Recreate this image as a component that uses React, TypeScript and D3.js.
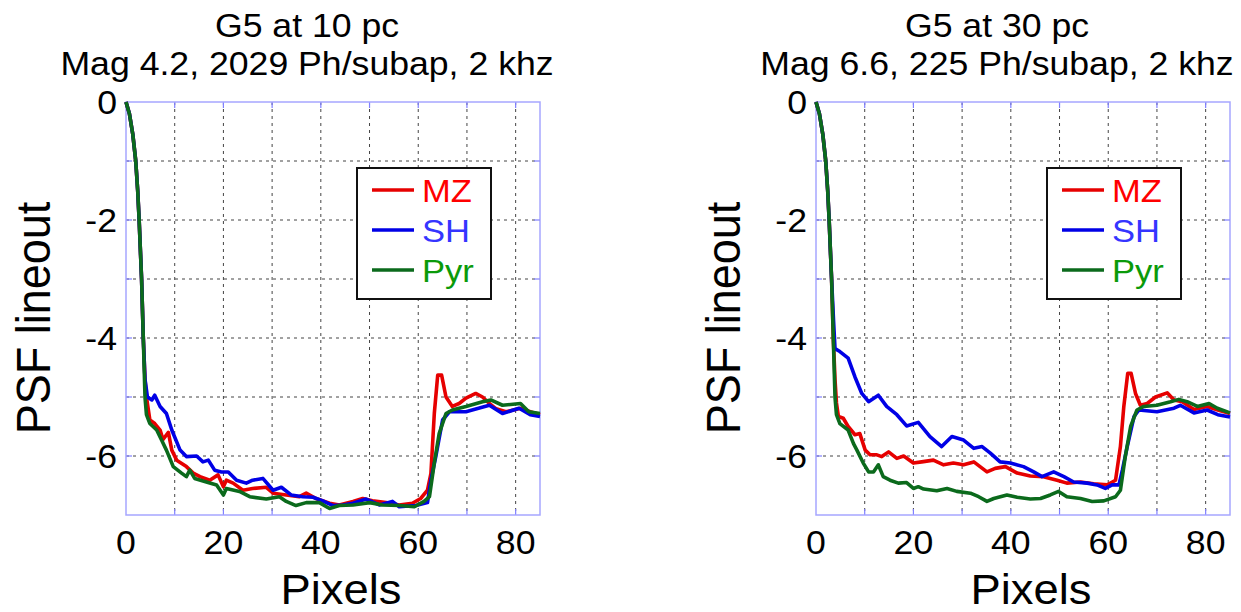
import React from 'react';
import * as d3 from 'd3';

// values: [pixel, log PSF]
const mz10: [number, number][] = [
  [0, 0], [0.7, -0.2], [1.4, -0.55], [2.0, -1.0], [2.4, -1.5], [2.7, -2.0], [3.2, -3.0], [3.55, -4.0], [3.9, -4.7],
  [4.2, -5.0], [4.9, -5.39], [5.9, -5.45], [7, -5.56], [7.6, -5.72], [8.7, -5.6], [9.4, -5.9], [10.4, -6.07],
  [12.4, -6.18], [13.8, -6.29], [15.2, -6.35], [17.2, -6.41], [18.9, -6.32], [20, -6.52], [20.6, -6.41], [22, -6.46],
  [24, -6.58], [26, -6.55], [28.8, -6.53], [30.2, -6.63], [32.9, -6.66], [35.6, -6.69], [37, -6.63], [39, -6.72],
  [41.8, -6.8], [43.8, -6.83], [46.6, -6.77], [48.6, -6.72], [50.6, -6.76], [53.4, -6.79], [56.1, -6.83], [58.8, -6.8],
  [60.5, -6.72], [61.9, -6.58], [62.6, -6.3], [63.3, -5.28], [64, -4.63], [64.8, -4.63], [65.7, -5.0], [67, -5.16],
  [68.4, -5.11], [69.8, -5.02], [71.8, -4.94], [73.2, -5.0], [74.6, -5.11], [76, -5.2], [78, -5.25], [81, -5.19],
  [83, -5.25], [85, -5.3],
];
const sh10: [number, number][] = [
  [0, 0], [0.7, -0.2], [1.4, -0.55], [2.0, -1.0], [2.4, -1.5], [2.7, -2.0], [3.2, -3.0], [3.55, -4.0], [3.9, -4.7],
  [4.4, -5.0], [5.3, -5.05], [5.9, -4.97], [7, -5.16], [8.3, -5.28], [9.4, -5.56], [11.1, -5.9], [12.4, -6.01],
  [14.5, -6.0], [15.8, -6.1], [16.9, -6.07], [18.2, -6.24], [19.6, -6.27], [21, -6.27], [22.7, -6.41], [24.7, -6.46],
  [26, -6.41], [28.1, -6.38], [30.2, -6.58], [31.9, -6.53], [33.9, -6.66], [36.3, -6.69], [38.4, -6.7], [40.4, -6.76],
  [42.5, -6.84], [44.5, -6.83], [46.6, -6.8], [49.3, -6.73], [52, -6.83], [54.7, -6.77], [56.1, -6.86], [59.5, -6.84],
  [61.9, -6.79], [62.6, -6.41], [63.6, -6.01], [65, -5.39], [66.4, -5.25], [69.8, -5.25], [72, -5.2], [74.6, -5.14],
  [77.3, -5.28], [80.7, -5.19], [83, -5.3], [85, -5.33],
];
const pyr10: [number, number][] = [
  [0, 0], [0.7, -0.2], [1.4, -0.55], [2.0, -1.0], [2.4, -1.5], [2.7, -2.0], [3.2, -3.0], [3.55, -4.0], [3.9, -5.0],
  [4.2, -5.3], [4.9, -5.45], [6.3, -5.56], [7.3, -5.73], [8.3, -5.9], [9.7, -6.18], [11.4, -6.29], [12.4, -6.35],
  [13.1, -6.24], [14.1, -6.38], [16.5, -6.44], [18.6, -6.49], [20, -6.66], [20.6, -6.55], [23.3, -6.6], [25.4, -6.69],
  [28.8, -6.73], [31.5, -6.69], [32.9, -6.77], [34.9, -6.84], [37, -6.79], [39.7, -6.79], [41.8, -6.89], [43.8, -6.84],
  [46.6, -6.83], [50, -6.79], [52.7, -6.83], [56.1, -6.84], [59.2, -6.86], [61.2, -6.77], [62.3, -6.69], [63.3, -6.12],
  [64.3, -5.62], [65.7, -5.28], [67, -5.22], [69.8, -5.16], [73.2, -5.08], [74.9, -5.05], [77.3, -5.14], [81, -5.11],
  [82.7, -5.25], [85, -5.28],
];

const mz30: [number, number][] = [
  [0, 0], [0.7, -0.2], [1.4, -0.55], [2.0, -1.0], [2.4, -1.5], [2.7, -2.0], [3.2, -3.0], [3.55, -4.0], [3.9, -4.7],
  [4.2, -5.1], [4.6, -5.33], [5.6, -5.36], [6.6, -5.5], [8, -5.64], [9, -5.62], [10.1, -5.9], [11.1, -5.98],
  [12.5, -5.98], [13.5, -6.01], [14.9, -5.93], [16.6, -6.04], [18, -6.0], [20, -6.12], [21.7, -6.1], [24.1, -6.07],
  [26.2, -6.15], [28.2, -6.12], [30.3, -6.15], [32.4, -6.1], [35.1, -6.27], [36.8, -6.21], [38.9, -6.18], [41.3, -6.29],
  [44, -6.34], [46.7, -6.35], [49.5, -6.41], [51.5, -6.46], [54.3, -6.44], [57, -6.47], [59.8, -6.49], [61.5, -6.41],
  [62.5, -5.84], [63.2, -5.16], [64, -4.6], [64.7, -4.6], [65.6, -4.94], [66.6, -5.14], [68, -5.11], [69.7, -5.0],
  [72.1, -4.93], [73.5, -5.05], [75.2, -5.08], [77.6, -5.21], [80.3, -5.16], [82.5, -5.22], [85, -5.28],
];
const sh30: [number, number][] = [
  [0, 0], [0.7, -0.2], [1.4, -0.55], [2.0, -1.0], [2.4, -1.5], [2.7, -2.0], [3.2, -3.0], [3.6, -3.7], [3.9, -4.18],
  [4.9, -4.23], [6.6, -4.34], [8, -4.66], [9.4, -4.94], [10.8, -5.08], [12.8, -4.97], [14.5, -5.16], [16.6, -5.3],
  [18.6, -5.49], [21, -5.43], [23.4, -5.67], [25.8, -5.84], [27.9, -5.67], [30.3, -5.73], [32.4, -5.87], [34.1, -5.84],
  [35.8, -5.95], [37.8, -6.1], [39.9, -6.12], [42.6, -6.18], [44.7, -6.27], [46.4, -6.35], [48.8, -6.27], [50.9, -6.35],
  [52.9, -6.44], [55.7, -6.46], [57.7, -6.49], [59.4, -6.55], [60.8, -6.49], [62.2, -6.49], [62.9, -6.24], [63.9, -5.84],
  [65.3, -5.33], [66.3, -5.22], [70, -5.25], [73.5, -5.19], [74.8, -5.14], [77.6, -5.27], [80.3, -5.22], [82.5, -5.3],
  [85, -5.34],
];
const pyr30: [number, number][] = [
  [0, 0], [0.7, -0.2], [1.4, -0.55], [2.0, -1.0], [2.4, -1.5], [2.7, -2.0], [3.2, -3.0], [3.55, -4.0], [3.9, -5.0],
  [4.2, -5.3], [4.9, -5.45], [6.6, -5.56], [7.7, -5.79], [8.4, -5.9], [9.7, -6.12], [10.8, -6.27], [11.8, -6.27],
  [12.8, -6.15], [13.8, -6.35], [15.2, -6.41], [16.9, -6.46], [18.6, -6.45], [20, -6.55], [21, -6.52], [22.1, -6.56],
  [24.8, -6.59], [26.9, -6.55], [28.9, -6.6], [31.7, -6.63], [33.4, -6.69], [35.1, -6.77], [36.5, -6.72], [39.2, -6.66],
  [41.3, -6.7], [44, -6.73], [46.1, -6.72], [48.1, -6.66], [49.8, -6.6], [51.5, -6.69], [54.3, -6.72], [56.7, -6.77],
  [59.1, -6.76], [61.5, -6.69], [62.5, -6.58], [63.5, -6.01], [64.6, -5.5], [65.9, -5.22], [67.3, -5.16], [70, -5.14],
  [72.8, -5.08], [74.5, -5.04], [76.2, -5.08], [78.3, -5.16], [80.7, -5.11], [82.4, -5.19], [85, -5.27],
];

const seriesNames = ['MZ', 'SH', 'Pyr'];
const lineColors = ['#e60000', '#0000e6', '#0b6a1c'];
const labelColors = ['#ff0000', '#3535ff', '#0a9a0a'];

const xGrid = [10, 20, 30, 40, 50, 60, 70, 80];
const xTickLabels = [0, 20, 40, 60, 80];
const yGrid = [-1, -2, -3, -4, -5, -6];
const yTickLabels = [0, -2, -4, -6];

const panelTitles = [
  ['G5 at 10 pc', 'Mag 4.2, 2029 Ph/subap, 2 khz'],
  ['G5 at 30 pc', 'Mag 6.6, 225 Ph/subap, 2 khz'],
];
const panelData = [
  [mz10, sh10, pyr10],
  [mz30, sh30, pyr30],
];

const font = 'Liberation Sans, Arial, Helvetica, sans-serif';
const SX = 1.08; // the source picture is a little wider than tall

const Txt = ({ x, y, size, anchor = 'middle', fill = '#000', rotate = 0, children }: any) => (
  <text
    transform={`translate(${x},${y}) scale(${SX},1) rotate(${rotate})`}
    fontSize={size}
    fontFamily={font}
    textAnchor={anchor}
    fill={fill}
  >
    {children}
  </text>
);

const Panel = ({ left, idx }: { left: number; idx: number }) => {
  const top = 102;
  const bottom = 515;
  const right = left + 414;
  const x = d3.scaleLinear().domain([0, 85]).range([left, right]);
  const y = d3.scaleLinear().domain([-7, 0]).range([bottom, top]);
  const line = d3.line<[number, number]>().x(d => x(d[0])).y(d => y(d[1]));
  const cx = (left + right) / 2;
  const tick = 6;
  const legX = left + 231;
  const legY = 168;

  return (
    <g>
      <Txt x={cx - 26} y={37} size={33}>{panelTitles[idx][0]}</Txt>
      <Txt x={cx - 26} y={75} size={33}>{panelTitles[idx][1]}</Txt>

      {xGrid.map(v => (
        <line key={'gx' + v} x1={x(v)} x2={x(v)} y1={top} y2={bottom} stroke="#444" strokeWidth={1} strokeDasharray="3,4" />
      ))}
      {yGrid.map(v => (
        <line key={'gy' + v} x1={left} x2={right} y1={y(v)} y2={y(v)} stroke="#444" strokeWidth={1} strokeDasharray="3,4" />
      ))}
      {xGrid.map(v => (
        <g key={'tx' + v} stroke="#8080ff" strokeWidth={1.2}>
          <line x1={x(v)} x2={x(v)} y1={bottom} y2={bottom - tick} />
          <line x1={x(v)} x2={x(v)} y1={top} y2={top + tick} />
        </g>
      ))}
      {yGrid.map(v => (
        <g key={'ty' + v} stroke="#8080ff" strokeWidth={1.2}>
          <line x1={left} x2={left + tick} y1={y(v)} y2={y(v)} />
          <line x1={right} x2={right - tick} y1={y(v)} y2={y(v)} />
        </g>
      ))}
      <rect x={left} y={top} width={right - left} height={bottom - top} fill="none" stroke="#a6a6ff" strokeWidth={1.5} />

      {panelData[idx].map((s, i) => (
        <path key={seriesNames[i]} d={line(s) || ''} fill="none" stroke={lineColors[i]} strokeWidth={3.6} strokeLinejoin="round" />
      ))}

      <rect x={legX} y={legY} width={134} height={131} fill="#fff" stroke="#111" strokeWidth={2} />
      {seriesNames.map((n, i) => {
        const ly = legY + 22 + i * 40;
        return (
          <g key={'leg' + n}>
            <line x1={legX + 15} x2={legX + 57} y1={ly} y2={ly} stroke={lineColors[i]} strokeWidth={3.6} />
            <Txt x={legX + 65} y={ly + 12} size={32} anchor="start" fill={labelColors[i]}>{n}</Txt>
          </g>
        );
      })}

      {xTickLabels.map(v => (
        <Txt key={'xl' + v} x={x(v)} y={554} size={33}>{v}</Txt>
      ))}
      {yTickLabels.map(v => (
        <Txt key={'yl' + v} x={left - 9} y={y(v) + 12} size={33} anchor="end">{v}</Txt>
      ))}
      <Txt x={cx + 8} y={604} size={42}>Pixels</Txt>
      <Txt x={left - 76} y={318} size={45} rotate={-90}>PSF lineout</Txt>
    </g>
  );
};

export default function App() {
  return (
    <svg
      width={1241}
      height={612}
      style={{ position: 'absolute', left: 0, top: 0, background: '#fff' }}
    >
      <rect width={1241} height={612} fill="#fff" />
      <Panel left={126} idx={0} />
      <Panel left={816} idx={1} />
    </svg>
  );
}
